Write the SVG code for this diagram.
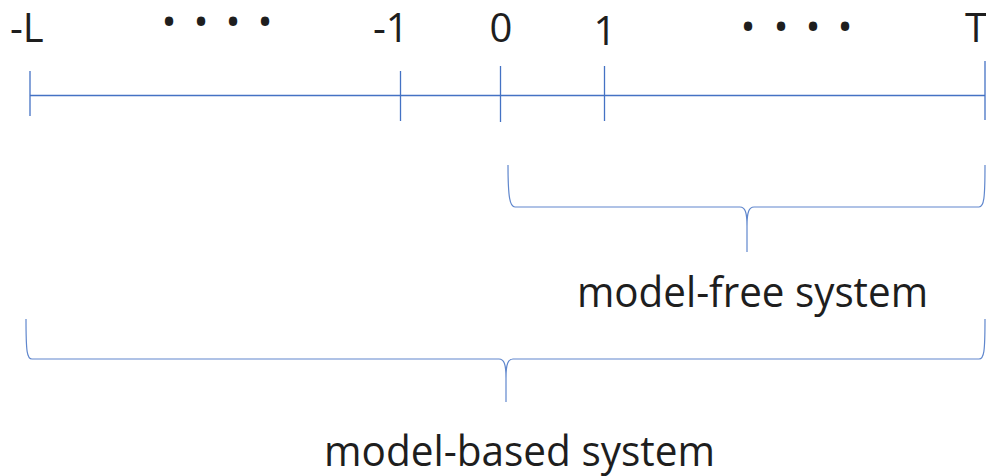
<svg xmlns="http://www.w3.org/2000/svg" width="986" height="476" viewBox="0 0 986 476">
<style>
.ln{stroke:#4472C4;stroke-width:1.3;fill:none}
.br{stroke:#4472C4;stroke-width:1.2;fill:none;stroke-opacity:0.85}
.lbl{font-family:"Open Sans","Noto Sans",sans-serif;font-size:40px;fill:#1e1e1e}
.cap{font-family:"Open Sans","Noto Sans",sans-serif;font-size:42px;fill:#1e1e1e}
.dot{font-family:"Open Sans","Noto Sans",sans-serif;font-size:40px;fill:#1e1e1e;text-anchor:middle}
</style>
<rect width="986" height="476" fill="#ffffff"/>
<g id="axis">
<line class="ln" x1="30" y1="95.5" x2="985" y2="95.5"/>
<line class="ln" x1="30" y1="71" x2="30" y2="116"/>
<line class="ln" x1="400.5" y1="71" x2="400.5" y2="121"/>
<line class="ln" x1="500.5" y1="66" x2="500.5" y2="122"/>
<line class="ln" x1="604.5" y1="66" x2="604.5" y2="121"/>
<line class="ln" x1="985" y1="61" x2="985" y2="120"/>
</g>
<g id="tick-labels">
<text class="lbl" x="10" y="42">-L</text>
<text class="lbl" x="373" y="42">-1</text>
<text class="lbl" x="501" y="42" text-anchor="middle">0</text>
<text class="lbl" x="605" y="45" text-anchor="middle">1</text>
<text class="lbl" x="965" y="42">T</text>
<text class="dot" x="169 201 233 265" y="36">••••</text>
<text class="dot" x="748 781 813 845" y="41">••••</text>
</g>
<g id="connectors">
<path id="brace-free" class="br" d="M508,165 C508,198 510,207 515,207 L740,207 C745,207 747,212 747,226 L747,252 M747,226 C747,212 749,207 754,207 L979,207 C984,207 985,198 985,165"/>
<path id="brace-based" class="br" d="M26,319 C26,352 27,359 32,359 L499,359 C504,359 506,364 506,378 L506,402 M506,378 C506,364 508,359 513,359 L979,359 C984,359 985,352 985,319"/>
</g>
<g id="model-free">
<text class="cap" x="577" y="307" textLength="351" lengthAdjust="spacingAndGlyphs">model-free system</text>
</g>
<g id="model-based">
<text class="cap" x="324" y="466" textLength="391" lengthAdjust="spacingAndGlyphs">model-based system</text>
</g>
</svg>
